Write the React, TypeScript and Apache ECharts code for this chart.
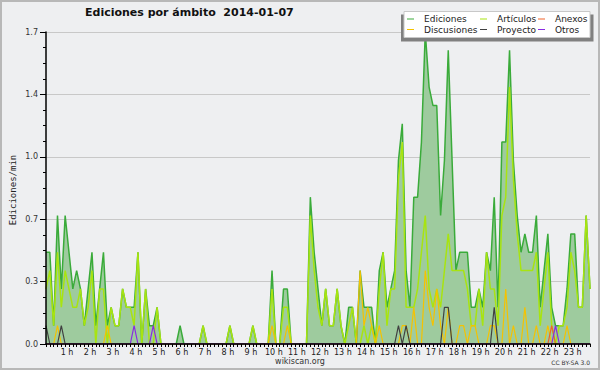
import React, { useEffect, useRef } from "react";
import * as echarts from "echarts";

// 10-minute bins from 00:00 (143 points shown)
const times: string[] = Array.from({ length: 143 }, (_, i) =>
  `${String(Math.floor(i / 6)).padStart(2, "0")}:${String((i % 6) * 10).padStart(2, "0")}`
);

const hourLabels = [
  "1 h", "2 h", "3 h", "4 h", "5 h", "6 h", "7 h", "8 h", "9 h", "10 h", "11 h", "12 h",
  "13 h", "14 h", "15 h", "16 h", "17 h", "18 h", "19 h", "20 h", "21 h", "22 h", "23 h",
];

const ediciones = [
  0.5, 0.5, 0.1, 0.7, 0.3, 0.7, 0.5, 0.3, 0.4, 0.3, 0.1, 0.3,
  0.5, 0.1, 0.3, 0.5, 0.1, 0.2, 0.1, 0.1, 0.3, 0.2, 0.2, 0.2,
  0.5, 0, 0.3, 0.1, 0.1, 0.2, 0, 0, 0, 0, 0, 0.1,
  0, 0, 0, 0, 0, 0.1, 0, 0, 0, 0, 0, 0,
  0.1, 0, 0, 0, 0, 0, 0.1, 0, 0, 0, 0, 0.4,
  0, 0, 0.3, 0.3, 0, 0, 0, 0, 0, 0.8, 0.5, 0.3,
  0.1, 0.3, 0.1, 0.1, 0.3, 0.1, 0, 0.2, 0.2, 0, 0.4, 0.2,
  0.2, 0.2, 0, 0.4, 0.5, 0.2, 0.3, 0.4, 1.0, 1.2, 0.4, 0.2,
  0.8, 0.8, 1.1, 1.7, 1.4, 1.3, 1.3, 0.7, 1.0, 1.6, 1.0, 0.4,
  0.5, 0.5, 0.5, 0.2, 0.2, 0.3, 0.2, 0.5, 0.4, 0.8, 0.2, 1.1,
  1.1, 1.6, 1.0, 0.7, 0.5, 0.6, 0.5, 0.5, 0.7, 0.2, 0.4, 0.6,
  0.2, 0.1, 0.1, 0.1, 0.3, 0.6, 0.6, 0.2, 0.2, 0.7, 0.3,
];

const articulos = [
  0.3, 0.4, 0.1, 0.5, 0.2, 0.4, 0.3, 0.2, 0.2, 0.3, 0.1, 0.2,
  0.4, 0, 0.3, 0.3, 0, 0.2, 0.1, 0.1, 0.3, 0.2, 0.2, 0.1,
  0.5, 0, 0.3, 0, 0, 0.2, 0, 0, 0, 0, 0, 0,
  0, 0, 0, 0, 0, 0.1, 0, 0, 0, 0, 0, 0,
  0.1, 0, 0, 0, 0, 0, 0.1, 0, 0, 0, 0, 0.3,
  0, 0, 0.2, 0.2, 0, 0, 0, 0, 0, 0.7, 0.4, 0.2,
  0.1, 0.3, 0.1, 0.1, 0.3, 0.1, 0, 0.1, 0.2, 0, 0, 0.1,
  0, 0.1, 0, 0.3, 0.5, 0.1, 0.3, 0.3, 0.9, 1.1, 0.2, 0.2,
  0.2, 0.3, 0.5, 0.7, 0.3, 0.2, 0.3, 0.2, 0.4, 0.6, 0.4, 0.4,
  0.4, 0.4, 0.3, 0.1, 0.1, 0.3, 0.1, 0.5, 0.3, 0.3, 0.1, 0.7,
  0.8, 1.4, 0.9, 0.6, 0.4, 0.4, 0.4, 0.4, 0.5, 0.1, 0.3, 0.5,
  0.1, 0, 0.1, 0.1, 0.2, 0.5, 0.4, 0.2, 0.2, 0.7, 0.3,
];

const discusiones = [
  0, 0, 0, 0.1, 0, 0, 0, 0, 0, 0, 0, 0,
  0, 0, 0, 0, 0.1, 0, 0, 0, 0, 0, 0, 0,
  0, 0, 0, 0, 0, 0, 0, 0, 0, 0, 0, 0,
  0, 0, 0, 0, 0, 0, 0, 0, 0, 0, 0, 0,
  0, 0, 0, 0, 0, 0, 0, 0, 0, 0, 0, 0.1,
  0, 0, 0, 0.1, 0, 0, 0, 0, 0, 0, 0, 0,
  0, 0, 0, 0, 0, 0, 0, 0, 0, 0, 0.4, 0.1,
  0.2, 0.1, 0, 0.1, 0, 0, 0, 0, 0, 0.1, 0.1, 0,
  0.2, 0, 0, 0.4, 0.2, 0.1, 0.3, 0.1, 0, 0.2, 0, 0,
  0.1, 0.1, 0, 0.1, 0.1, 0, 0, 0, 0.1, 0.1, 0, 0,
  0.3, 0, 0.1, 0, 0, 0.2, 0, 0, 0.1, 0, 0, 0.1,
  0, 0, 0, 0, 0.1, 0, 0, 0, 0, 0, 0,
];

const proyecto = [
  0.1, 0, 0, 0, 0.1, 0, 0, 0, 0, 0, 0, 0,
  0, 0, 0, 0, 0, 0, 0, 0, 0, 0, 0, 0,
  0, 0, 0, 0, 0, 0, 0, 0, 0, 0, 0, 0,
  0, 0, 0, 0, 0, 0, 0, 0, 0, 0, 0, 0,
  0, 0, 0, 0, 0, 0, 0, 0, 0, 0, 0, 0,
  0, 0, 0, 0, 0, 0, 0, 0, 0, 0, 0, 0,
  0, 0, 0, 0, 0, 0, 0, 0, 0, 0, 0, 0,
  0, 0, 0, 0, 0, 0, 0, 0, 0.1, 0, 0.1, 0,
  0, 0, 0, 0, 0, 0, 0, 0, 0.2, 0.2, 0, 0,
  0, 0, 0, 0, 0, 0, 0, 0, 0, 0.2, 0, 0,
  0, 0, 0, 0, 0, 0, 0, 0, 0, 0, 0, 0,
  0, 0, 0, 0, 0, 0, 0, 0, 0, 0, 0,
];

const otros = [
  0, 0, 0, 0, 0, 0, 0, 0, 0, 0, 0, 0,
  0, 0, 0, 0, 0, 0, 0, 0, 0, 0, 0, 0.1,
  0, 0, 0, 0, 0.1, 0, 0, 0, 0, 0, 0, 0,
  0, 0, 0, 0, 0, 0, 0, 0, 0, 0, 0, 0,
  0, 0, 0, 0, 0, 0, 0, 0, 0, 0, 0, 0,
  0, 0, 0, 0, 0, 0, 0, 0, 0, 0, 0, 0,
  0, 0, 0, 0, 0, 0, 0, 0, 0, 0, 0, 0,
  0, 0, 0, 0, 0, 0, 0, 0, 0, 0, 0, 0,
  0, 0, 0, 0, 0, 0, 0, 0, 0, 0, 0, 0,
  0, 0, 0, 0, 0, 0, 0, 0, 0, 0, 0, 0,
  0, 0, 0, 0, 0, 0, 0, 0, 0, 0, 0, 0,
  0, 0.1, 0, 0, 0, 0, 0, 0, 0, 0, 0,
];

const anexos = [
  0, 0, 0, 0, 0, 0, 0, 0, 0, 0, 0, 0,
  0, 0, 0, 0, 0, 0, 0, 0, 0, 0, 0, 0,
  0, 0, 0, 0, 0, 0, 0, 0, 0, 0, 0, 0,
  0, 0, 0, 0, 0, 0, 0, 0, 0, 0, 0, 0,
  0, 0, 0, 0, 0, 0, 0, 0, 0, 0, 0, 0,
  0, 0, 0, 0, 0, 0, 0, 0, 0, 0, 0, 0,
  0, 0, 0, 0, 0, 0, 0, 0, 0, 0, 0, 0,
  0, 0, 0, 0, 0, 0, 0, 0, 0, 0, 0, 0,
  0, 0, 0, 0, 0, 0, 0, 0, 0, 0, 0, 0,
  0, 0, 0, 0, 0, 0, 0, 0, 0, 0, 0, 0,
  0, 0, 0, 0, 0, 0, 0, 0, 0, 0, 0, 0,
  0.1, 0, 0, 0, 0, 0, 0, 0, 0, 0, 0,
];

const FONT = "DejaVu Sans";

const COLORS = {
  Ediciones: "#3aab3a",
  Artículos: "#a8e410",
  Anexos: "#f0622a",
  Discusiones: "#f5c200",
  Proyecto: "#404040",
  Otros: "#8a2be2",
};

export default function App() {
  const ref = useRef<HTMLDivElement>(null);

  useEffect(() => {
    if (!ref.current) return;
    const chart = echarts.init(ref.current, undefined, { renderer: "svg" });

    const legendCommon = {
      orient: "vertical",
      top: 14,
      padding: 0,
      itemGap: 0.5,
      icon: "rect",
      itemWidth: 7,
      itemHeight: 1,
      selectedMode: false,
      z: 10,
      textStyle: {
        fontFamily: FONT,
        fontSize: 9,
        color: "#222",
        lineHeight: 10,
        padding: [0, 0, 0, 5],
      },
    };

    const lineSeries = (name: keyof typeof COLORS, data: number[], width: number, z: number) => ({
      name,
      type: "line",
      data,
      color: COLORS[name],
      showSymbol: false,
      symbol: "none",
      lineStyle: { color: COLORS[name], width },
      z,
      silent: true,
    });

    const option: any = {
      animation: false,
      backgroundColor: "#eeeff1",
      textStyle: { fontFamily: FONT },
      title: {
        text: "Ediciones por ámbito  2014-01-07",
        left: 85,
        top: 7,
        padding: 0,
        textStyle: { fontFamily: FONT, fontSize: 11, fontWeight: "bold", color: "#111" },
      },
      grid: { left: 46, right: 10, top: 32, bottom: 26, containLabel: false, outerBoundsMode: "none" },
      xAxis: {
        type: "category",
        data: times,
        boundaryGap: false,
        z: 6,
        axisLine: { lineStyle: { color: "#000", width: 1.5 } },
        axisTick: { show: true, interval: 0, length: 3, lineStyle: { color: "#000" } },
        axisLabel: {
          interval: (i: number) => i > 0 && i % 6 === 0,
          formatter: (_v: string, i: number) => hourLabels[i / 6 - 1] ?? "",
          fontFamily: FONT,
          fontSize: 8,
          color: "#222",
          margin: 4,
          padding: [0, 4, 0, 0],
        },
        splitLine: { show: false },
      },
      yAxis: [
        {
          type: "value",
          min: 0,
          max: 1.7,
          interval: 0.34,
          axisLine: { show: false },
          axisTick: { show: false },
          axisLabel: { show: false },
          splitLine: { show: true, lineStyle: { color: "#c8c8c8", width: 1 } },
        },
        {
          type: "value",
          min: 0,
          max: 1.7,
          interval: 0.34,
          position: "left",
          offset: 0,
          z: 6,
          axisLine: { show: true, lineStyle: { color: "#000", width: 1.5 } },
          axisTick: { show: true, length: 6, lineStyle: { color: "#000" } },
          minorTick: { show: true, splitNumber: 4, length: 3, lineStyle: { color: "#000" } },
          axisLabel: {
            formatter: (v: number) => v.toFixed(1),
            fontFamily: FONT,
            fontSize: 8,
            color: "#333",
            margin: 8,
          },
          splitLine: { show: false },
        },
      ],
      legend: [
        { ...legendCommon, left: 407, data: ["Ediciones", "Discusiones"] },
        { ...legendCommon, left: 480, data: ["Artículos", "Proyecto"] },
        { ...legendCommon, left: 538, data: ["Anexos", "Otros"] },
      ],
      graphic: [
        {
          type: "rect",
          z: 20,
          silent: true,
          shape: { x: 1, y: 1, width: 598, height: 368 },
          style: { fill: "none", stroke: "#b8b8b8", lineWidth: 2 },
        },
        {
          type: "rect",
          z: 8,
          silent: true,
          shape: { x: 401, y: 14.5, width: 192.5, height: 27 },
          style: { fill: "#808080" },
        },
        {
          type: "rect",
          z: 9,
          silent: true,
          shape: { x: 404, y: 11.5, width: 186, height: 26 },
          style: { fill: "#ffffff", stroke: "#c8c8c8", lineWidth: 1 },
        },
        {
          type: "text",
          z: 10,
          x: 13,
          y: 190,
          rotation: Math.PI / 2,
          style: {
            text: "Ediciones/min",
            fontFamily: "DejaVu Sans Mono",
            fontSize: 9,
            fill: "#222",
            align: "center",
            verticalAlign: "middle",
          },
        },
        {
          type: "text",
          z: 10,
          x: 300,
          y: 361,
          style: {
            text: "wikiscan.org",
            fontFamily: FONT,
            fontSize: 8,
            fill: "#333",
            align: "center",
            verticalAlign: "middle",
          },
        },
        {
          type: "text",
          z: 10,
          x: 590,
          y: 362.5,
          style: {
            text: "CC BY-SA 3.0",
            fontFamily: FONT,
            fontSize: 6,
            fill: "#333",
            align: "right",
            verticalAlign: "middle",
          },
        },
      ],
      series: [
        {
          ...lineSeries("Ediciones", ediciones, 1.5, 2),
          areaStyle: { color: "#9ecb9e", opacity: 1 },
        },
        lineSeries("Artículos", articulos, 1.5, 3),
        lineSeries("Discusiones", discusiones, 1.2, 4),
        lineSeries("Anexos", anexos, 1.2, 4),
        lineSeries("Proyecto", proyecto, 1.2, 5),
        lineSeries("Otros", otros, 1.2, 5),
      ],
    };

    chart.setOption(option);
    return () => chart.dispose();
  }, []);

  return (
    <div
      ref={ref}
      style={{ position: "fixed", left: 0, top: 0, width: 600, height: 370 }}
    />
  );
}
